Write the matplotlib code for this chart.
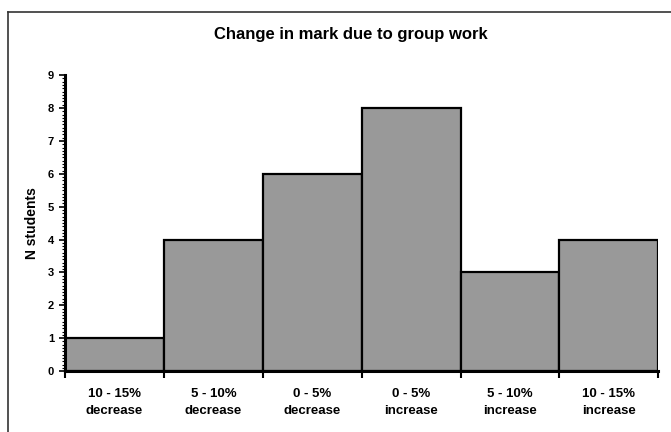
import numpy as np
import matplotlib
matplotlib.use('Agg')
import matplotlib.pyplot as plt
from matplotlib.lines import Line2D
from matplotlib.ticker import MultipleLocator

plt.rcParams['font.family'] = ['Liberation Sans', 'DejaVu Sans']

categories = ['10 - 15%\ndecrease', '5 - 10%\ndecrease', '0 - 5%\ndecrease',
              '0 - 5%\nincrease', '5 - 10%\nincrease', '10 - 15%\nincrease']
students = [1, 4, 6, 8, 3, 4]

fig = plt.figure(figsize=(6.71, 4.32), dpi=100)
ax = fig.add_axes([0.097, 0.141, 0.884, 0.685])

x = np.arange(len(categories))
ax.bar(x, students, width=1.0, color='#999999', edgecolor='black', linewidth=1.6)

ax.set_xlim(-0.5, len(categories) - 0.5)
ax.set_ylim(0, 9)
ax.yaxis.set_major_locator(MultipleLocator(1))
ax.yaxis.set_minor_locator(MultipleLocator(0.1))
ax.tick_params(axis='y', which='major', length=4, width=1.2, labelsize=8, pad=4)
ax.tick_params(axis='y', which='minor', length=2, width=0.8)
for lab in ax.get_yticklabels():
    lab.set_fontweight('bold')

# category ticks sit at bar boundaries
ax.set_xticks(np.arange(len(categories) + 1) - 0.5)
ax.set_xticklabels([])
ax.set_xticks(x, minor=True)
ax.set_xticklabels(categories, minor=True, fontsize=9.5, fontweight='bold',
                   linespacing=1.6)
ax.tick_params(axis='x', which='major', length=5, width=1.5)
ax.tick_params(axis='x', which='minor', length=0, pad=12)

ax.spines['top'].set_visible(False)
ax.spines['right'].set_visible(False)
ax.spines['left'].set_linewidth(2.2)
ax.spines['bottom'].set_linewidth(2.2)

ax.set_ylabel('N students', fontsize=10, fontweight='bold', labelpad=6)
fig.text(0.523, 0.919, 'Change in mark due to group work', ha='center', va='center',
         fontsize=12, fontweight='bold')

# outer chart frame (top and left edges)
fig.add_artist(Line2D([0.012, 1.0], [0.972, 0.972], color='#333333', lw=1.2))
fig.add_artist(Line2D([0.012, 0.012], [0.0, 0.972], color='#333333', lw=1.2))

fig.savefig('out.png', dpi=100)
